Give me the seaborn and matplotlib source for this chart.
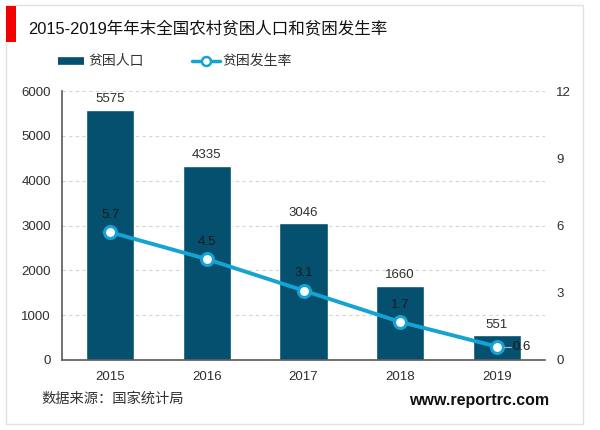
import matplotlib.pyplot as plt
from matplotlib.lines import Line2D
from matplotlib.patches import Rectangle
import numpy as np
import pandas as pd
import seaborn as sns

years = ['2015', '2016', '2017', '2018', '2019']
population = [5575, 4335, 3046, 1660, 551]
rate = [5.7, 4.5, 3.1, 1.7, 0.6]
left_ticks = [0, 1000, 2000, 3000, 4000, 5000, 6000]
right_ticks = [0, 3, 6, 9, 12]

dark = '#04506e'
blue = '#14a3d3'
tick_col = '#2e2e2e'

sns.set_theme(style="white")
plt.rcParams['font.family'] = ['Liberation Sans', 'Noto Sans CJK SC']

df = pd.DataFrame({'year': years, 'population': population, 'rate': rate})

fig = plt.figure(figsize=(6, 4.3), dpi=100)
W, H = 600, 430
ax = fig.add_axes([62 / W, 1 - 360 / H, 483 / W, 269 / H])

# frame around the picture and red title block
fig.add_artist(Rectangle((6 / W, 1 - 424 / H), 577 / W, 419 / H, transform=fig.transFigure,
                         fill=False, ec='#e2e2e2', lw=1))
fig.add_artist(Rectangle((6 / W, 1 - 42 / H), 10 / W, 36 / H, transform=fig.transFigure,
                         fc='#f50000', ec='none'))

sns.barplot(data=df, x='year', y='population', color=dark, width=0.5, saturation=1, ax=ax)
ax.set_xlim(-0.5, 4.5)
ax.set_ylim(0, 6000)
ax.set_yticks(left_ticks)
ax.set_xlabel('')
ax.set_ylabel('')
ax.yaxis.grid(True, color='#d4d4d4', ls=(0, (3, 3)), lw=0.8)
ax.set_axisbelow(True)
ax.tick_params(axis='both', labelsize=9.5, colors=tick_col, length=0)
ax.tick_params(axis='x', pad=8)
ax.tick_params(axis='y', pad=8)
for s in ['top', 'right']:
    ax.spines[s].set_visible(False)
for s in ['left', 'bottom']:
    ax.spines[s].set_color('#595959')
    ax.spines[s].set_linewidth(1.2)

for i, v in enumerate(population):
    ax.text(i, v + 105, str(v), ha='center', va='bottom', fontsize=9.5, color=tick_col)

ax2 = ax.twinx()
sns.lineplot(x=np.arange(len(years)), y=rate, ax=ax2, color=blue, lw=2.8, marker='o', ms=8.6,
             mfc='white', mec=blue, mew=2.2, zorder=5)
ax2.set_ylim(0, 12)
ax2.set_yticks(right_ticks)
ax2.tick_params(axis='y', labelsize=9.5, colors=tick_col, length=0, pad=8)
ax2.grid(False)
for s in ax2.spines.values():
    s.set_visible(False)

for i, v in enumerate(rate[:-1]):
    ax2.text(i, v + 0.5, str(v), ha='center', va='bottom', fontsize=9.5, color='#1a1a1a')
ax2.plot([4.08, 4.15], [rate[-1], rate[-1]], color='#9fb8c4', lw=0.8, zorder=6)
ax2.text(4.165, rate[-1], str(rate[-1]), ha='left', va='center', fontsize=9.5, color='#1a1a1a')

fig.text(28 / W, 1 - 29 / H, '2015-2019年年末全国农村贫困人口和贫困发生率', fontsize=11.9,
         color='#111111', va='center', ha='left')

# legend drawn by hand to hold the wide swatches in place
fig.add_artist(Line2D([58 / W, 84 / W], [1 - 61 / H] * 2, color=dark, lw=5.5, solid_capstyle='butt'))
fig.text(88 / W, 1 - 61 / H, '贫困人口', fontsize=10, color='#333333', va='center')
fig.add_artist(Line2D([192 / W, 220 / W], [1 - 61 / H] * 2, color=blue, lw=2.5))
fig.add_artist(Line2D([206 / W], [1 - 61 / H], color=blue, marker='o', ms=6.5, mfc='white', mew=1.8))
fig.text(222 / W, 1 - 61 / H, '贫困发生率', fontsize=10, color='#333333', va='center')

fig.text(41 / W, 1 - 399 / H, '数据来源：国家统计局', fontsize=10.3, color='#333333', va='center')
fig.text(409 / W, 1 - 400 / H, 'www.reportrc.com', fontsize=11.5, fontweight='bold',
         color='#111111', va='center')

fig.savefig('out.png', dpi=100)
